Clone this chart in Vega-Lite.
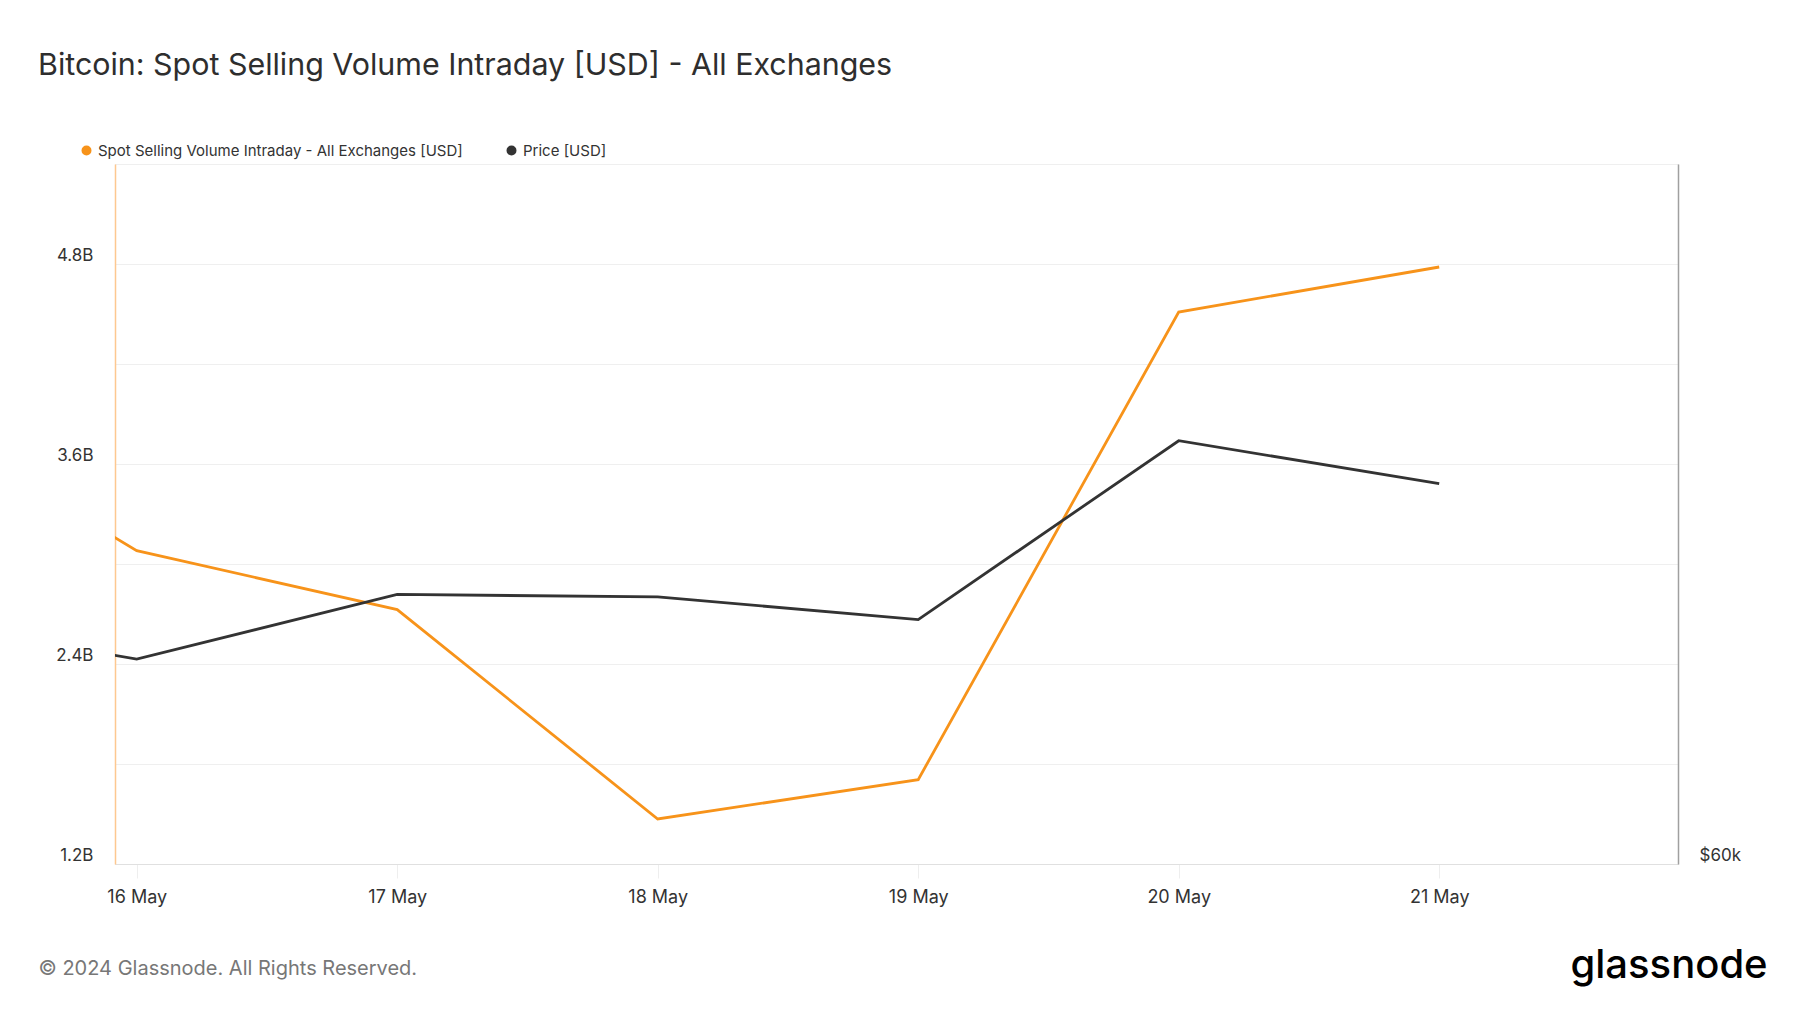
{
  "$schema": "https://vega.github.io/schema/vega-lite/v6.json",
  "width": 1563,
  "height": 700,
  "autosize": {"type": "none"},
  "padding": {"left": 115, "top": 164, "right": 122, "bottom": 149},
  "background": "white",
  "config": {
    "font": "Inter",
    "view": {"stroke": "#e8e8e8"}
  },
  "title": {
    "text": "Bitcoin: Spot Selling Volume Intraday [USD] - All Exchanges",
    "anchor": "start",
    "frame": "group",
    "dx": -77,
    "offset": 62,
    "fontSize": 30.4,
    "fontWeight": 400,
    "font": "Inter",
    "color": "#2e2e2e"
  },
  "data": {
    "values": [
      {"date": "2024-05-15T00:00:00Z", "volume": 4020000000, "price": 66500},
      {"date": "2024-05-16T00:00:00Z", "volume": 3080000000, "price": 65270},
      {"date": "2024-05-17T00:00:00Z", "volume": 2726000000, "price": 67030},
      {"date": "2024-05-18T00:00:00Z", "volume": 1470000000, "price": 66960},
      {"date": "2024-05-19T00:00:00Z", "volume": 1706000000, "price": 66340},
      {"date": "2024-05-20T00:00:00Z", "volume": 4512000000, "price": 71400},
      {"date": "2024-05-21T00:00:00Z", "volume": 4782000000, "price": 70150}
    ]
  },
  "encoding": {
    "x": {
      "field": "date",
      "type": "temporal",
      "scale": {
        "type": "utc",
        "nice": false,
        "domain": [
          {"year": 2024, "month": 5, "date": 15, "hours": 22, "utc": true},
          {"year": 2024, "month": 5, "date": 21, "hours": 22, "utc": true}
        ]
      },
      "axis": {
        "values": [
          {"year": 2024, "month": 5, "date": 16, "utc": true},
          {"year": 2024, "month": 5, "date": 17, "utc": true},
          {"year": 2024, "month": 5, "date": 18, "utc": true},
          {"year": 2024, "month": 5, "date": 19, "utc": true},
          {"year": 2024, "month": 5, "date": 20, "utc": true},
          {"year": 2024, "month": 5, "date": 21, "utc": true}
        ],
        "labelExpr": "utcFormat(datum.value, '%-d %b')",
        "grid": false,
        "domainColor": "#e0e0e0",
        "tickColor": "#eeeeee",
        "tickSize": 14,
        "labelPadding": 10,
        "labelFontSize": 18,
        "labelColor": "#333333",
        "labelFlush": false,
        "labelFont": "Inter",
        "title": "© 2024 Glassnode. All Rights Reserved.",
        "titleX": -77,
        "titleY": 104,
        "titleAlign": "left",
        "titleAnchor": "start",
        "titleBaseline": "middle",
        "titleFontSize": 20,
        "titleFontWeight": 400,
        "titleColor": "#777777",
        "titleFont": "Inter"
      }
    }
  },
  "layer": [
    {
      "mark": {"type": "line", "clip": true, "strokeWidth": 2.8},
      "encoding": {
        "y": {
          "field": "volume",
          "type": "quantitative",
          "scale": {"domain": [1200000000, 5400000000], "nice": false, "zero": false},
          "axis": {
            "orient": "left",
            "values": [1200000000, 1800000000, 2400000000, 3000000000, 3600000000, 4200000000, 4800000000, 5400000000],
            "labelExpr": "round(datum.value / 1e8) % 12 == 0 ? format(datum.value / 1e9, '.1f') + 'B' : ''",
            "grid": true,
            "gridColor": "#efefef",
            "ticks": false,
            "domainColor": "#fdc890",
            "domainWidth": 1.5,
            "labelPadding": 22,
            "labelFontSize": 17,
            "labelColor": "#333333",
            "labelBaseline": "bottom",
            "labelFlush": false,
            "labelFont": "Inter",
            "title": null
          }
        },
        "color": {
          "datum": "Spot Selling Volume Intraday - All Exchanges [USD]",
          "type": "nominal",
          "scale": {
            "domain": ["Spot Selling Volume Intraday - All Exchanges [USD]", "Price [USD]"],
            "range": ["#f7931a", "#333333"]
          },
          "legend": {
            "orient": "none",
            "legendX": -36,
            "legendY": -21,
            "direction": "horizontal",
            "title": null,
            "symbolType": "circle",
            "symbolSize": 25,
            "symbolStrokeWidth": 5,
            "labelFontSize": 15,
            "labelFont": "Inter",
            "labelColor": "#333333",
            "labelOffset": 4,
            "labelLimit": 800,
            "columnPadding": 36
          }
        }
      }
    },
    {
      "mark": {"type": "line", "clip": true, "strokeWidth": 2.8},
      "encoding": {
        "y": {
          "field": "price",
          "type": "quantitative",
          "scale": {"type": "log", "domain": [60000, 80000], "nice": false, "zero": false},
          "axis": {
            "orient": "right",
            "values": [60000],
            "labelExpr": "'$60k'",
            "grid": false,
            "ticks": false,
            "domainColor": "#a0a0a0",
            "domainWidth": 1.5,
            "labelPadding": 21,
            "labelFontSize": 17,
            "labelColor": "#333333",
            "labelBaseline": "bottom",
            "labelAlign": "left",
            "labelFlush": false,
            "labelFont": "Inter",
            "title": "glassnode",
            "titleAngle": 0,
            "titleX": -108,
            "titleY": 801,
            "titleAlign": "left",
            "titleBaseline": "middle",
            "titleFontSize": 40,
            "titleFontWeight": 500,
            "titleColor": "#000000",
            "titleFont": "Inter"
          }
        },
        "color": {"datum": "Price [USD]", "type": "nominal"}
      }
    }
  ],
  "resolve": {"scale": {"y": "independent"}}
}
